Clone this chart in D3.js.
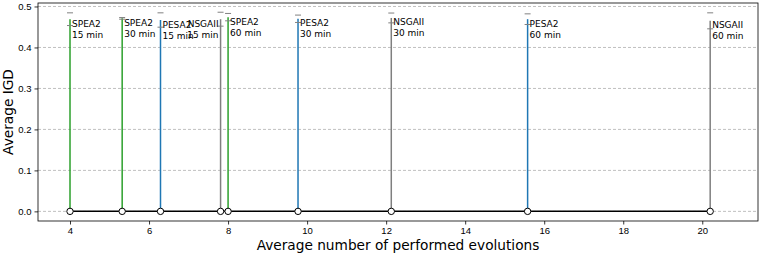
<!DOCTYPE html>
<html>
<head>
<meta charset="utf-8">
<script src="https://cdn.jsdelivr.net/npm/d3@7"></script>
<style>
  body { margin: 0; background: #fff; }
  svg { font-family: "DejaVu Sans", sans-serif; }
</style>
</head>
<body>
<div id="chart"></div>
<script>
// --- DATOS ---
const algorithms = ["SPEA2", "SPEA2", "PESA2", "NSGAII", "SPEA2", "PESA2", "NSGAII", "PESA2", "NSGAII"];
const budgets = ["15 min", "30 min", "15 min", "15 min", "60 min", "30 min", "30 min", "60 min", "60 min"];
const evolutions = [4.0, 5.32, 6.29, 7.81, 8.0, 9.77, 12.13, 15.58, 20.2];
const meanIGD = [0.469, 0.471, 0.467, 0.469, 0.474, 0.470, 0.472, 0.469, 0.465];
const stdIGD = [0.0155, 0.002, 0.0175, 0.017, 0.009, 0.009, 0.012, 0.013, 0.0195];
// etiqueta a la izquierda del tallo (para no chocar con el vecino)
const labelLeft = [false, false, false, true, false, false, false, false, false];
const yTicks = [0.0, 0.1, 0.2, 0.3, 0.4, 0.5];
const xTicks = [4, 6, 8, 10, 12, 14, 16, 18, 20];

const colors = { SPEA2: "#2ca02c", PESA2: "#1f77b4", NSGAII: "#7f7f7f" };

const data = evolutions.map((x, i) => ({
    x, y: meanIGD[i], err: stdIGD[i], alg: algorithms[i], budget: budgets[i], left: labelLeft[i]
}));

// --- CONFIGURACIÓN ---
const W = 761, H = 254;
const margin = { top: 3, right: 3, bottom: 33, left: 38 };
const width = W - margin.left - margin.right;
const height = H - margin.top - margin.bottom;

const svg = d3.select("#chart").append("svg")
    .attr("width", W).attr("height", H);

const g = svg.append("g").attr("transform", `translate(${margin.left},${margin.top})`);

const x = d3.scaleLinear().domain([3.19, 21.41]).range([0, width]);
const y = d3.scaleLinear().domain([-0.0235, 0.5085]).range([height, 0]);

// Rejilla horizontal
g.append("g").selectAll("line")
    .data(yTicks)
    .join("line")
    .attr("x1", 0).attr("x2", width)
    .attr("y1", d => y(d)).attr("y2", d => y(d))
    .attr("stroke", "#b0b0b0")
    .attr("stroke-width", 0.8)
    .attr("stroke-dasharray", "3,2");

// Ejes
const xAxis = g.append("g")
    .attr("transform", `translate(0,${height})`)
    .call(d3.axisBottom(x).tickValues(xTicks).tickSize(3.5).tickPadding(3).tickFormat(d3.format("d")));
const yAxis = g.append("g")
    .call(d3.axisLeft(y).tickValues(yTicks).tickSize(3.5).tickPadding(3).tickFormat(d3.format(".1f")));

[xAxis, yAxis].forEach(a => {
    a.select(".domain").remove();
    a.selectAll("text").style("font-size", "9.5px").attr("fill", "#000");
    a.selectAll("line").attr("stroke", "#000").attr("stroke-width", 0.8);
});

// Stems
g.append("g").selectAll("line")
    .data(data)
    .join("line")
    .attr("x1", d => x(d.x)).attr("x2", d => x(d.x))
    .attr("y1", y(0)).attr("y2", d => y(d.y))
    .attr("stroke", d => colors[d.alg])
    .attr("stroke-width", 1.5);

// Barras de error (solo los topes)
const caps = g.append("g");
data.forEach(d => {
    [d.y + d.err, d.y - d.err].forEach(v => {
        caps.append("line")
            .attr("x1", x(d.x) - 3).attr("x2", x(d.x) + 3)
            .attr("y1", y(v)).attr("y2", y(v))
            .attr("stroke", "#808080")
            .attr("stroke-width", 1);
    });
});

// Línea base
g.append("path")
    .datum(data)
    .attr("fill", "none")
    .attr("stroke", "#000")
    .attr("stroke-width", 1.5)
    .attr("d", d3.line().x(d => x(d.x)).y(() => y(0)));

g.append("g").selectAll("circle")
    .data(data)
    .join("circle")
    .attr("cx", d => x(d.x)).attr("cy", y(0))
    .attr("r", 3.2)
    .attr("fill", "#fff")
    .attr("stroke", "#000")
    .attr("stroke-width", 1);

// Etiquetas
const lx = d => d.left ? x(d.x) - 2 : x(d.x) + 2;
const labels = g.append("g").selectAll("text")
    .data(data)
    .join("text")
    .attr("x", lx)
    .attr("y", d => y(d.y) + 7.5)
    .attr("text-anchor", d => d.left ? "end" : "start")
    .style("font-size", "9px")
    .attr("fill", "#000");
labels.append("tspan").attr("x", lx).text(d => d.alg);
labels.append("tspan").attr("x", lx).attr("dy", 11).text(d => d.budget);

// Marco
g.append("rect")
    .attr("width", width).attr("height", height)
    .attr("fill", "none").attr("stroke", "#000").attr("stroke-width", 0.8);

// Títulos de ejes
svg.append("text")
    .attr("x", margin.left + width / 2).attr("y", H - 4)
    .attr("text-anchor", "middle")
    .style("font-size", "13.7px")
    .text("Average number of performed evolutions");
svg.append("text")
    .attr("transform", `translate(13,${margin.top + height / 2}) rotate(-90)`)
    .attr("text-anchor", "middle")
    .style("font-size", "13.7px")
    .text("Average IGD");
</script>
</body>
</html>
